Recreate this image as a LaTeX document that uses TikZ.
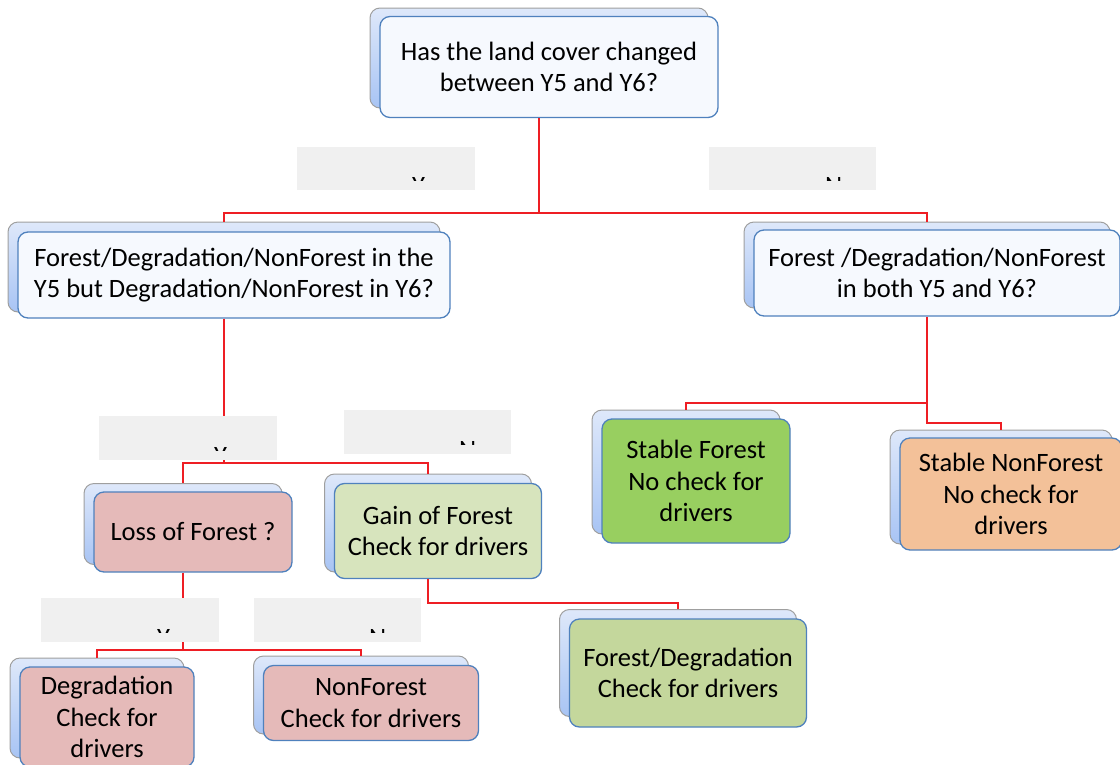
\documentclass[tikz,border=0pt]{standalone}
\usepackage{fontspec}
\setmainfont{Carlito}

\definecolor{backtop}{RGB}{222,232,250}
\definecolor{backbot}{RGB}{168,196,244}
\definecolor{frameblue}{RGB}{79,129,189}
\definecolor{plainfill}{RGB}{246,249,254}
\definecolor{stablegreen}{RGB}{152,207,96}
\definecolor{stableorange}{RGB}{243,193,153}
\definecolor{losspink}{RGB}{229,186,185}
\definecolor{gainlight}{RGB}{215,228,189}
\definecolor{gaindark}{RGB}{196,215,156}
\definecolor{taggrey}{RGB}{240,240,240}
\definecolor{linkred}{RGB}{238,30,36}

\tikzset{
  every node/.style={font=\fontsize{26.5}{31.5}\selectfont},
  backbox/.style={rounded corners=10pt, draw=gray!75, line width=1pt,
    top color=backtop, bottom color=backbot, inner sep=0pt},
  frontbox/.style={rounded corners=10pt, draw=frameblue, line width=1.3pt,
    fill=plainfill, align=center, inner sep=0pt},
  tag/.style={fill=taggrey, inner sep=0pt},
  link/.style={draw=linkred, line width=1.2pt}
}

\begin{document}
\begin{tikzpicture}[x=1pt,y=-1pt]
\useasboundingbox (0,0) rectangle (1120,764);

% first question
\node[backbox,minimum width=338,minimum height=100] (topb) at (539,58) {};
\node[frontbox,minimum width=338,minimum height=101] (top) at (549,67) {Has the land cover changed\\between Y5 and Y6?};

% second level questions
\node[backbox,minimum width=432,minimum height=90] (qlb) at (224,267) {};
\node[frontbox,minimum width=432,minimum height=86] (ql) at (234,275) {Forest/Degradation/NonForest in the\\Y5 but Degradation/NonForest in Y6?};
\node[backbox,minimum width=366,minimum height=86] (qrb) at (927,265) {};
\node[frontbox,minimum width=366,minimum height=86] (qr) at (937,273) {Forest /Degradation/NonForest\\in both Y5 and Y6?};

% stable classes
\node[backbox,minimum width=188,minimum height=124] (sfb) at (686,472) {};
\node[frontbox,fill=stablegreen,minimum width=188,minimum height=124] (sf) at (696,481) {Stable Forest\\No check for\\drivers};
\node[backbox,minimum width=222,minimum height=114] (snfb) at (1001,487) {};
\node[frontbox,fill=stableorange,minimum width=222,minimum height=112] (snf) at (1011,494) {Stable NonForest\\No check for\\drivers};

% loss / gain
\node[backbox,minimum width=198,minimum height=81] (lossb) at (183,524) {};
\node[frontbox,fill=losspink,minimum width=198,minimum height=80] (loss) at (193,532) {Loss of Forest ?};
\node[backbox,minimum width=207,minimum height=98] (gainb) at (428,523) {};
\node[frontbox,fill=gainlight,minimum width=207,minimum height=95] (gain) at (438,531) {Gain of Forest\\Check for drivers};

% last level
\node[backbox,minimum width=237,minimum height=107] (fdb) at (678,663) {};
\node[frontbox,fill=gaindark,minimum width=237,minimum height=108] (fd) at (688,673) {Forest/Degradation\\Check for drivers};
\node[backbox,minimum width=174,minimum height=100] (degb) at (97,708) {};
\node[frontbox,fill=losspink,minimum width=174,minimum height=100] (deg) at (107,717) {Degradation\\Check for\\drivers};
\node[backbox,minimum width=215,minimum height=78] (nfb) at (361,695) {};
\node[frontbox,fill=losspink,minimum width=215,minimum height=75] (nf) at (371,703) {NonForest\\Check for drivers};

% connectors (one path, so the colour holds for every piece)
\coordinate (j1) at (539,213);
\coordinate (j2) at (224,463);
\coordinate (j3) at (927,403);
\coordinate (j4) at (927,423);
\coordinate (j5) at (183,650);
\coordinate (j6) at (428,603);
\draw[link] (topb.south |- top.south) -- (j1) -| (qlb.north)
  (j1) -| (qrb.north)
  (qlb.south |- ql.south) -- (j2) -| (lossb.north)
  (j2) -| (gainb.north)
  (qrb.south |- qr.south) -- (j3) -| (sfb.north)
  (j3) -- (j4) -| (snfb.north)
  (lossb.south |- loss.south) -- (j5) -| (degb.north)
  (j5) -| (nfb.north)
  (gainb.south |- gain.south) -- (j6) -| (fdb.north);

% yes / no tags
\node[tag,minimum width=178,minimum height=43] (yes1) at (386,168.5) {};
\node[tag,minimum width=167,minimum height=43] (no1) at (792.5,168.5) {};
\node[tag,minimum width=178,minimum height=44] (yes2) at (188,438) {};
\node[tag,minimum width=167,minimum height=44] (no2) at (427.5,432) {};
\node[tag,minimum width=178,minimum height=44] (yes3) at (130,620) {};
\node[tag,minimum width=167,minimum height=44] (no3) at (337.5,620) {};
\begin{scope}
\clip (yes1.north west) rectangle ([yshift=10pt]yes1.south east);
\node[anchor=base west,inner sep=0pt] (yes1t) at (412,194) {Yes};
\end{scope}
\begin{scope}
\clip (no1.north west) rectangle ([yshift=10pt]no1.south east);
\node[anchor=base west,inner sep=0pt] (no1t) at (825,194) {No};
\end{scope}
\begin{scope}
\clip (yes2.north west) rectangle ([yshift=10pt]yes2.south east);
\node[anchor=base west,inner sep=0pt] (yes2t) at (214,464) {Yes};
\end{scope}
\begin{scope}
\clip (no2.north west) rectangle ([yshift=10pt]no2.south east);
\node[anchor=base west,inner sep=0pt] (no2t) at (459,458) {No};
\end{scope}
\begin{scope}
\clip (yes3.north west) rectangle ([yshift=10pt]yes3.south east);
\node[anchor=base west,inner sep=0pt] (yes3t) at (157,646) {Yes};
\end{scope}
\begin{scope}
\clip (no3.north west) rectangle ([yshift=10pt]no3.south east);
\node[anchor=base west,inner sep=0pt] (no3t) at (369,646) {No};
\end{scope}
\end{tikzpicture}
\end{document}
